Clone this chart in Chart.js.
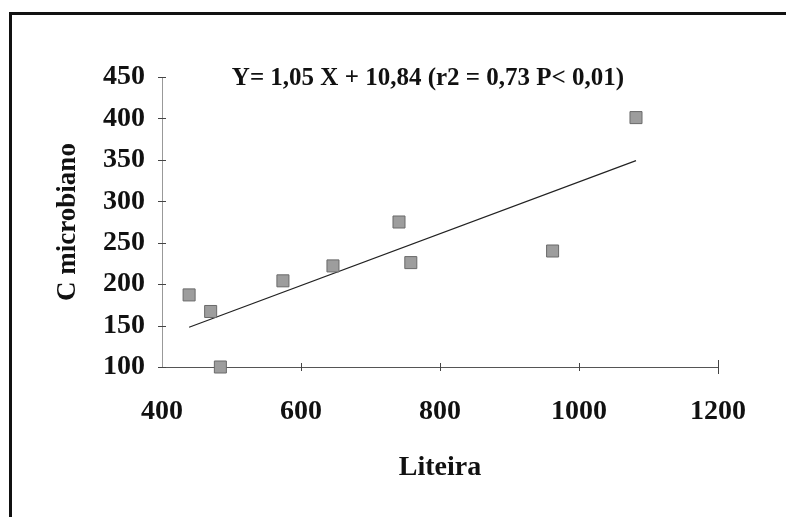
<!DOCTYPE html>
<html>
<head>
<meta charset="utf-8">
<script src="https://cdn.jsdelivr.net/npm/chart.js"></script>
<style>
  body { margin: 0; background: #fff; }
  #wrap { position: relative; width: 786px; height: 517px; overflow: hidden; }
  #frame { position: absolute; left: 9px; top: 12px; width: 900px; height: 600px;
           border-top: 3px solid #111; border-left: 3px solid #111; }
  canvas { position: absolute; left: 0; top: 0; }
</style>
</head>
<body>
<div id="wrap">
  <div id="frame"></div>
  <canvas id="chart" width="786" height="517"></canvas>
</div>
<script>
// Liteira (x) vs C microbiano (y)
const liteira = [439, 470, 484, 574, 646, 741, 758, 962, 1082];
const cMicrobiano = [187, 167, 100, 204, 222, 275, 226, 240, 401];
const xTicks = [400, 600, 800, 1000, 1200];
const yTicks = [100, 150, 200, 250, 300, 350, 400, 450];
const equationText = 'Y= 1,05 X + 10,84 (r2 = 0,73 P< 0,01)';

// least squares line through the points
const n = liteira.length;
const mx = liteira.reduce((a, b) => a + b, 0) / n;
const my = cMicrobiano.reduce((a, b) => a + b, 0) / n;
let sxy = 0, sxx = 0;
for (let i = 0; i < n; i++) {
    sxy += (liteira[i] - mx) * (cMicrobiano[i] - my);
    sxx += (liteira[i] - mx) ** 2;
}
const slope = sxy / sxx;
const intercept = my - slope * mx;
const xMin = Math.min(...liteira), xMax = Math.max(...liteira);
const trend = [
    { x: xMin, y: slope * xMin + intercept },
    { x: xMax, y: slope * xMax + intercept }
];

const serif = 'Liberation Serif';

// small tick marks that cross the axes, plus the equation text
const extras = {
    id: 'extras',
    afterDraw(chart) {
        const { ctx, chartArea, scales } = chart;
        ctx.save();
        ctx.strokeStyle = '#444';
        ctx.lineWidth = 1;
        yTicks.forEach(v => {
            const y = Math.round(scales.y.getPixelForValue(v)) + 0.5;
            ctx.beginPath();
            ctx.moveTo(chartArea.left - 4, y);
            ctx.lineTo(chartArea.left + 4, y);
            ctx.stroke();
        });
        xTicks.forEach((v, i) => {
            if (i === 0) return;
            const x = Math.round(scales.x.getPixelForValue(v)) + 0.5;
            const h = i === xTicks.length - 1 ? 7 : 4;
            ctx.beginPath();
            ctx.moveTo(x, chartArea.bottom - h);
            ctx.lineTo(x, chartArea.bottom + h);
            ctx.stroke();
        });
        ctx.fillStyle = '#111';
        ctx.font = 'bold 25px "' + serif + '"';
        ctx.textAlign = 'center';
        ctx.textBaseline = 'middle';
        ctx.fillText(equationText, chartArea.left + 266, chartArea.top + 2);
        ctx.restore();
    }
};

new Chart(document.getElementById('chart').getContext('2d'), {
    type: 'scatter',
    data: {
        datasets: [
            {
                data: liteira.map((x, i) => ({ x: x, y: cMicrobiano[i] })),
                pointStyle: 'rect',
                pointRadius: 8.5,
                backgroundColor: '#9d9d9d',
                borderColor: '#6a6a6a',
                borderWidth: 1,
                clip: false
            },
            {
                type: 'line',
                data: trend,
                borderColor: '#222',
                borderWidth: 1.2,
                pointRadius: 0,
                fill: false
            }
        ]
    },
    options: {
        responsive: false,
        animation: false,
        layout: { padding: { left: 0, top: 77, right: 68, bottom: 0 } },
        plugins: { legend: { display: false }, tooltip: { enabled: false } },
        scales: {
            x: {
                type: 'linear',
                min: 400,
                max: 1200,
                afterBuildTicks: s => { s.ticks = xTicks.map(v => ({ value: v })); },
                afterFit: s => { s.height = 150; },
                grid: { display: false, drawTicks: false },
                border: { display: true, color: '#555', width: 1 },
                ticks: { color: '#111', padding: 28, maxRotation: 0, callback: v => String(v),
                         font: { family: serif, weight: 'bold', size: 28 } },
                title: { display: true, text: 'Liteira', color: '#111', padding: { top: 0, bottom: 32 },
                         font: { family: serif, weight: 'bold', size: 28 } }
            },
            y: {
                min: 100,
                max: 450,
                afterBuildTicks: s => { s.ticks = yTicks.map(v => ({ value: v })); },
                afterFit: s => { s.width = 162; },
                grid: { display: false, drawTicks: false },
                border: { display: true, color: '#999', width: 1 },
                ticks: { color: '#111', padding: 17, callback: v => String(v),
                         font: { family: serif, weight: 'bold', size: 28 } },
                title: { display: true, text: 'C microbiano', color: '#111', padding: { top: 52, bottom: 0 },
                         font: { family: serif, weight: 'bold', size: 27 } }
            }
        }
    },
    plugins: [extras]
});
</script>
</body>
</html>
